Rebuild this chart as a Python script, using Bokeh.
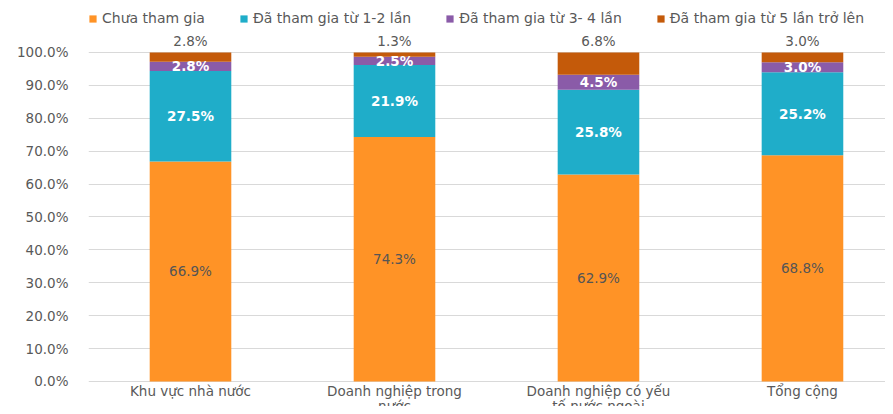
from bokeh.plotting import figure
from bokeh.models import ColumnDataSource, FixedTicker, PrintfTickFormatter, Legend, LegendItem
from bokeh.core.properties import value
from bokeh.embed import file_html
from bokeh.resources import INLINE

categories = ["Khu vực nhà nước", "Doanh nghiệp trong\nnước", "Doanh nghiệp có yếu\ntố nước ngoài", "Tổng cộng"]
series_names = ["Chưa tham gia", "Đã tham gia từ 1-2 lần", "Đã tham gia từ 3- 4 lần", "Đã tham gia từ 5 lần trở lên"]
chua_tham_gia = [66.9, 74.3, 62.9, 68.8]
tu_1_2 = [27.5, 21.9, 25.8, 25.2]
tu_3_4 = [2.8, 2.5, 4.5, 3.0]
tu_5 = [2.8, 1.3, 6.8, 3.0]
y_ticks = [0, 10, 20, 30, 40, 50, 60, 70, 80, 90, 100]

colors = ["#FF9326", "#1FADC9", "#8A5BA8", "#C45A0A"]
FONT = "DejaVu Sans"

xs = [i + 0.5 for i in range(len(categories))]
s1 = chua_tham_gia
s2 = [a + b for a, b in zip(s1, tu_1_2)]
s3 = [a + b for a, b in zip(s2, tu_3_4)]
s4 = [a + b for a, b in zip(s3, tu_5)]

src = ColumnDataSource(dict(x=xs, a=chua_tham_gia, b=tu_1_2, c=tu_3_4, d=tu_5))

p = figure(width=885, height=406, output_backend="svg", toolbar_location=None,
           x_range=(0, 3.907), y_range=(-7.6, 115.8),
           min_border_left=88, min_border_right=0, min_border_top=0, min_border_bottom=0)
p.outline_line_color = None
p.background_fill_color = "white"

rs = p.vbar_stack(["a", "b", "c", "d"], x="x", width=0.4, color=colors, line_color=None, source=src)

def lab(ys, vals, color, bold=False, baseline="middle", yoff=0):
    d = ColumnDataSource(dict(x=xs, y=ys, t=["%.1f%%" % v for v in vals]))
    p.text(x="x", y="y", text="t", source=d, text_align="center", text_baseline=baseline,
           text_color=color, text_font=value(FONT), text_font_size="13.5px",
           text_font_style="bold" if bold else "normal", y_offset=yoff)

lab([v / 2 for v in s1], chua_tham_gia, "#555555")
lab([(a + b) / 2 for a, b in zip(s1, s2)], tu_1_2, "white", bold=True)
lab([(a + b) / 2 for a, b in zip(s2, s3)], tu_3_4, "white", bold=True)
lab(s4, tu_5, "#595959", baseline="bottom", yoff=-3)

# category labels under the baseline
cat_src = ColumnDataSource(dict(x=xs, y=[0] * len(xs), t=categories))
p.text(x="x", y="y", text="t", source=cat_src, text_align="center", text_baseline="top",
       y_offset=2, text_color="#595959", text_font=value(FONT), text_font_size="13.5px",
       text_line_height=0.92)

p.xgrid.visible = False
p.xaxis.visible = False
p.ygrid.ticker = FixedTicker(ticks=y_ticks)
p.ygrid.grid_line_color = "#D9D9D9"
p.ygrid.grid_line_width = 1

p.yaxis.ticker = FixedTicker(ticks=y_ticks)
p.yaxis.formatter = PrintfTickFormatter(format="%.1f%%")
p.yaxis.axis_line_color = None
p.yaxis.major_tick_line_color = None
p.yaxis.minor_tick_line_color = None
p.yaxis.major_tick_out = 0
p.yaxis.major_tick_in = 0
p.yaxis.major_label_standoff = 20
p.yaxis.major_label_text_font = FONT
p.yaxis.major_label_text_font_size = "13.5px"
p.yaxis.major_label_text_color = "#595959"

legend = Legend(items=[LegendItem(label=n, renderers=[r]) for n, r in zip(series_names, rs)],
                orientation="horizontal", location=(0, 380), padding=0, margin=0,
                spacing=34, label_standoff=5, glyph_width=9, glyph_height=9,
                label_text_font=FONT, label_text_font_size="14px", label_text_color="#595959",
                background_fill_alpha=0, border_line_color=None)
p.add_layout(legend, "center")

open("out.html", "w").write(file_html(p, INLINE))
